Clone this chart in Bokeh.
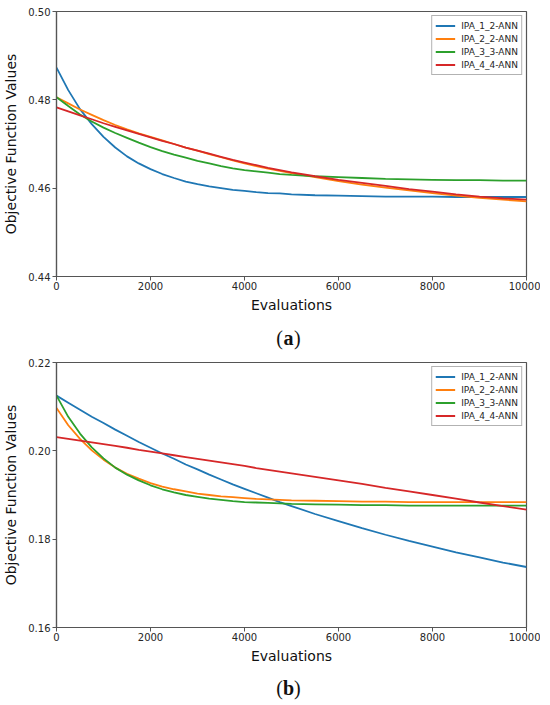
from bokeh.plotting import figure
from bokeh.models import Range1d, FixedTicker, PrintfTickFormatter, Label
from bokeh.layouts import column
from bokeh.embed import file_html
from bokeh.resources import INLINE

# ---------------- data ----------------
evaluations = [0, 250, 500, 750, 1000, 1250, 1500, 1750, 2000, 2250, 2500, 2750, 3000,
               3250, 3500, 3750, 4000, 4250, 4500, 4750, 5000,
               5500, 6000, 6500, 7000, 7500, 8000, 8500, 9000, 9500, 10000]

series_names = ["IPA_1_2-ANN", "IPA_2_2-ANN", "IPA_3_3-ANN", "IPA_4_4-ANN"]
series_colors = ["#1f77b4", "#ff7f0e", "#2ca02c", "#d62728"]

# panel (a)
a_ipa_1_2 = [0.4873, 0.4822, 0.4779, 0.4745, 0.4716, 0.4692, 0.4672, 0.4656, 0.4643, 0.4632, 0.4623,
             0.4615, 0.4609, 0.4604, 0.4600, 0.4596, 0.4594, 0.4591, 0.4589, 0.4588, 0.4586,
             0.4584, 0.4583, 0.4582, 0.4581, 0.4581, 0.4581, 0.4580, 0.4580, 0.4580, 0.4580]
a_ipa_2_2 = [0.4806, 0.4792, 0.4778, 0.4766, 0.4754, 0.4743, 0.4733, 0.4724, 0.4716, 0.4708, 0.4700,
             0.4692, 0.4685, 0.4677, 0.4670, 0.4663, 0.4656, 0.4650, 0.4644, 0.4639, 0.4634,
             0.4625, 0.4616, 0.4608, 0.4601, 0.4595, 0.4589, 0.4583, 0.4578, 0.4574, 0.4570]
a_ipa_3_3 = [0.4806, 0.4786, 0.4767, 0.4751, 0.4737, 0.4725, 0.4714, 0.4703, 0.4693, 0.4684, 0.4676,
             0.4669, 0.4662, 0.4656, 0.4650, 0.4645, 0.4641, 0.4638, 0.4635, 0.4632, 0.4630,
             0.4627, 0.4625, 0.4623, 0.4621, 0.4620, 0.4619, 0.4618, 0.4618, 0.4617, 0.4617]
a_ipa_4_4 = [0.4783, 0.4774, 0.4765, 0.4756, 0.4747, 0.4739, 0.4731, 0.4723, 0.4715, 0.4707, 0.4700,
             0.4692, 0.4685, 0.4678, 0.4671, 0.4664, 0.4658, 0.4652, 0.4646, 0.4641, 0.4636,
             0.4627, 0.4619, 0.4612, 0.4605, 0.4598, 0.4592, 0.4586, 0.4581, 0.4577, 0.4574]

# panel (b)
b_ipa_1_2 = [0.2125, 0.2109, 0.2093, 0.2077, 0.2063, 0.2048, 0.2034, 0.2020, 0.2007, 0.1994, 0.1982,
             0.1969, 0.1958, 0.1946, 0.1935, 0.1924, 0.1914, 0.1904, 0.1894, 0.1884, 0.1875,
             0.1857, 0.1841, 0.1825, 0.1810, 0.1796, 0.1783, 0.1770, 0.1759, 0.1747, 0.1737]
b_ipa_2_2 = [0.2097, 0.2058, 0.2027, 0.2001, 0.1980, 0.1962, 0.1948, 0.1937, 0.1927, 0.1919, 0.1913,
             0.1908, 0.1903, 0.1900, 0.1897, 0.1895, 0.1893, 0.1891, 0.1890, 0.1889, 0.1888,
             0.1887, 0.1886, 0.1885, 0.1885, 0.1884, 0.1884, 0.1884, 0.1884, 0.1884, 0.1884]
b_ipa_3_3 = [0.2125, 0.2077, 0.2039, 0.2008, 0.1983, 0.1962, 0.1946, 0.1933, 0.1922, 0.1913, 0.1906,
             0.1900, 0.1896, 0.1892, 0.1889, 0.1886, 0.1884, 0.1883, 0.1882, 0.1881, 0.1880,
             0.1879, 0.1878, 0.1877, 0.1877, 0.1876, 0.1876, 0.1876, 0.1876, 0.1876, 0.1876]
b_ipa_4_4 = [0.2031, 0.2027, 0.2023, 0.2019, 0.2015, 0.2011, 0.2007, 0.2002, 0.1998, 0.1994, 0.1990,
             0.1986, 0.1982, 0.1978, 0.1974, 0.1970, 0.1966, 0.1961, 0.1957, 0.1953, 0.1949,
             0.1941, 0.1933, 0.1925, 0.1916, 0.1908, 0.1900, 0.1892, 0.1883, 0.1875, 0.1867]

x_ticks = [0, 2000, 4000, 6000, 8000, 10000]
a_y_ticks = [0.44, 0.46, 0.48, 0.50]
b_y_ticks = [0.16, 0.18, 0.20, 0.22]

FONT = "DejaVu Sans"
EDGE = "#555555"


def make_panel(series, y0, y1, yticks, border_top, border_bottom):
    p = figure(frame_width=470, frame_height=265, output_backend="svg", toolbar_location=None,
               x_range=Range1d(0, 10000), y_range=Range1d(y0, y1),
               min_border_left=50, min_border_right=14,
               min_border_top=border_top, min_border_bottom=border_bottom)
    p.xgrid.visible = False
    p.ygrid.visible = False
    p.outline_line_color = EDGE
    p.outline_line_width = 1.2

    for ys, name, col in zip(series, series_names, series_colors):
        p.line(evaluations, ys, line_color=col, line_width=1.8, legend_label=name)

    p.xaxis.ticker = FixedTicker(ticks=x_ticks)
    p.xaxis.formatter = PrintfTickFormatter(format="%d")
    p.yaxis.ticker = FixedTicker(ticks=yticks)
    p.yaxis.formatter = PrintfTickFormatter(format="%.2f")

    for ax in (p.xaxis[0], p.yaxis[0]):
        ax.axis_line_color = EDGE
        ax.axis_line_width = 1.2
        ax.major_tick_line_color = EDGE
        ax.major_tick_out = 4
        ax.major_tick_in = 0
        ax.minor_tick_line_color = None
        ax.major_label_text_font = FONT
        ax.major_label_text_font_size = "10px"
        ax.major_label_text_color = "#262626"
        ax.axis_label_text_font = FONT
        ax.axis_label_text_font_size = "14px"
        ax.axis_label_text_font_style = "normal"
        ax.axis_label_text_color = "#111111"

    p.xaxis.axis_label = "Evaluations"
    p.yaxis.axis_label = "Objective Function Values"
    p.xaxis.major_label_standoff = 1
    p.xaxis.axis_label_standoff = 4
    p.yaxis.major_label_standoff = 2
    p.yaxis.axis_label_standoff = 6

    lg = p.legend[0]
    lg.location = "top_right"
    lg.margin = 4
    lg.padding = 3
    lg.spacing = 0
    lg.label_height = 13
    lg.glyph_height = 13
    lg.glyph_width = 20
    lg.label_standoff = 6
    lg.label_text_font = FONT
    lg.label_text_font_size = "9px"
    lg.label_text_color = "#262626"
    lg.border_line_color = "#666666"
    lg.border_line_width = 1
    lg.background_fill_alpha = 0.9
    return p


def caption(letter, height, center_from_top):
    c = figure(width=534, height=height, output_backend="svg", toolbar_location=None,
               x_range=Range1d(0, 1), y_range=Range1d(0, 1), min_border=0,
               x_axis_location=None, y_axis_location=None)
    c.grid.visible = False
    c.outline_line_color = None
    yc = 1.0 - center_from_top / height
    common = dict(x=0.5, y=yc, text_font="Liberation Serif", text_font_size="20px",
                  text_color="#111111", text_baseline="middle")
    c.add_layout(Label(text="(", text_align="right", x_offset=-5.5, **common))
    c.add_layout(Label(text=letter, text_align="center", text_font_style="bold", **common))
    c.add_layout(Label(text=")", text_align="left", x_offset=5.5, **common))
    return c


pa = make_panel([a_ipa_1_2, a_ipa_2_2, a_ipa_3_3, a_ipa_4_4], 0.44, 0.50, a_y_ticks, 11, 40)
pb = make_panel([b_ipa_1_2, b_ipa_2_2, b_ipa_3_3, b_ipa_4_4], 0.16, 0.22, b_y_ticks, 4, 40)

layout = column(pa, caption("a", 42, 21), pb, caption("b", 38, 20), spacing=0)

open("out.html", "w").write(file_html(layout, INLINE))
